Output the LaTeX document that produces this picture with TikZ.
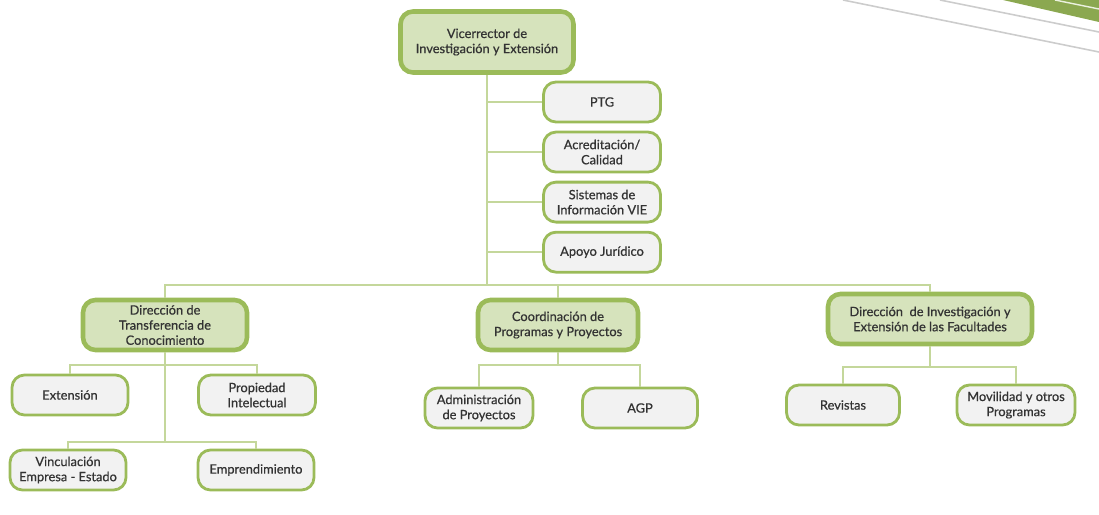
\documentclass[tikz,border=0pt]{standalone}
\usepackage{fontspec}
\setmainfont{Lato}
\newfontfamily\boxfont{Lato}[FakeBold=0.6]
\usetikzlibrary{positioning}
\definecolor{olive}{HTML}{9BBB59}
\definecolor{lineg}{HTML}{C4D79B}
\definecolor{headfill}{HTML}{D6E3BC}
\definecolor{unitfill}{HTML}{F2F2F2}
\definecolor{txt}{HTML}{333333}
\tikzset{
  box/.style = {draw=olive, rounded corners=2.5mm, align=center, text=txt, inner sep=1pt,
    font=\boxfont\fontsize{7.3}{8.6}\selectfont},
  head/.style = {box, fill=headfill, line width=2.6pt, minimum height=1cm},
  unit/.style = {box, fill=unitfill, line width=1.6pt, minimum height=0.8cm},
  link/.style = {draw=lineg, line width=1.1pt}
}
\begin{document}
\begin{tikzpicture}[x=0.02cm, y=-0.02cm, node distance={1.45mm}]
	\useasboundingbox (0,0) rectangle (1099,514);
	% corner decoration
	\fill[olive!90!black] (1003,0) -- (1099,0) -- (1099,22) -- cycle;
	\draw[white!80!olive, line width=0.8pt] (1055,0) -- (1099,9);
	\draw[black!20, line width=0.9pt] (843,0) -- (1099,52);
	\draw[black!20, line width=0.9pt] (940,0) -- (1099,32);
	% nodes
	\node[head, minimum width=3.46cm, minimum height=1.22cm] (vie) at (487,42) {Vicerrector de\\Investigación y Extensión};
	\node[unit, minimum width=2.34cm] (ptg) at (602,102) {PTG};
	\node[unit, minimum width=2.34cm] (acr) [below=of ptg] {Acreditación/\\Calidad};
	\node[unit, minimum width=2.34cm] (sie) [below=of acr] {Sistemas de\\Información VIE};
	\node[unit, minimum width=2.34cm] (apo) [below=of sie] {Apoyo Jurídico};
	\node[head, minimum width=3.28cm] (dtc) at (165,325) {Dirección de\\Transferencia de\\Conocimiento};
	\node[head, minimum width=3.2cm] (cpp) at (558,325) {Coordinación de\\Programas y Proyectos};
	\node[head, minimum width=4.08cm] (dif) at (930,319) {Dirección \ de Investigación y\\Extensión de las Facultades};
	\node[unit, minimum width=2.32cm] (ext) at (70,395) {Extensión};
	\node[unit, minimum width=2.34cm] (pin) at (257,395) {Propiedad\\Intelectual};
	\node[unit, minimum width=2.32cm] (vin) at (68,470) {Vinculación\\Empresa - Estado};
	\node[unit, minimum width=2.32cm] (emp) at (256,470) {Emprendimiento};
	\node[unit, minimum width=2.16cm] (adm) at (479,408) {Administración\\de Proyectos};
	\node[unit, minimum width=2.3cm] (agp) at (640,408) {AGP};
	\node[unit, minimum width=2.26cm] (rev) at (843,405) {Revistas};
	\node[unit, minimum width=2.36cm] (mov) at (1016,405) {Movilidad y otros\\Programas};
	% junctions
	\coordinate (bus) at (487,285);
	\coordinate (dtc-a) at (165,365);
	\coordinate (dtc-b) at (165,442);
	\coordinate (cpp-a) at (558,365);
	\coordinate (dif-a) at (930,367);
	% connectors
	\draw[link] (vie) -- (bus);
	\draw[link] (vie.south) |- (ptg.west);
	\draw[link] (vie.south) |- (acr.west);
	\draw[link] (vie.south) |- (sie.west);
	\draw[link] (vie.south) |- (apo.west);
	\draw[link] (dtc.north) |- (bus) -| (dif.north);
	\draw[link] (cpp.north) -- (cpp.north |- bus);
	\draw[link] (dtc) -- (dtc-b);
	\draw[link] (ext.north) |- (dtc-a) -| (pin.north);
	\draw[link] (vin.north) |- (dtc-b) -| (emp.north);
	\draw[link] (cpp) -- (cpp-a);
	\draw[link] (adm.north) |- (cpp-a) -| (agp.north);
	\draw[link] (dif) -- (dif-a);
	\draw[link] (rev.north) |- (dif-a) -| (mov.north);
\end{tikzpicture}
\end{document}
